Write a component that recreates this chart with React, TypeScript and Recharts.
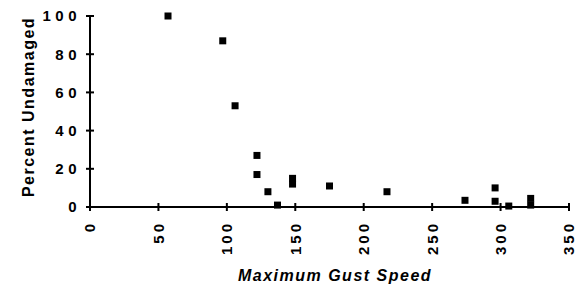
import React from 'react'
import { ScatterChart, Scatter, XAxis, YAxis } from 'recharts'

// gust speed vs percent undamaged
const gustSpeed = [57, 97, 106, 122, 122, 130, 137, 148, 148, 175, 217, 274, 296, 296, 306, 322, 322]
const percentUndamaged = [100, 87, 53, 27, 17, 8, 1, 15, 12, 11, 8, 3.5, 10, 3, 0.5, 4.5, 1]
const xTicks = [0, 50, 100, 150, 200, 250, 300, 350]
const yTicks = [0, 20, 40, 60, 80, 100]

const data = gustSpeed.map((x, i) => ({ x, y: percentUndamaged[i] }))

const FONT = '"Liberation Sans", Arial, Helvetica, sans-serif'
const TICK_SIZE = 4

function YTick(props: any) {
  const { x, y, payload } = props
  const axisX = x + TICK_SIZE + 5
  return (
    <g>
      <line x1={axisX - 4} x2={axisX + 4} y1={y} y2={y} stroke="#000" strokeWidth={2} />
      <text
        x={x}
        y={y}
        dy="0.36em"
        textAnchor="end"
        fontFamily={FONT}
        fontWeight="bold"
        fontSize={15}
        letterSpacing={4.5}
        fill="#000"
      >
        {payload.value}
      </text>
    </g>
  )
}

function XTick(props: any) {
  const { x, y, payload } = props
  const axisY = y - TICK_SIZE - 10
  return (
    <g>
      <line x1={x} x2={x} y1={axisY - 4} y2={axisY + 4} stroke="#000" strokeWidth={2} />
      <g transform={`translate(${x},${y})`}>
        <text
          transform="rotate(-90)"
          dy="0.36em"
          textAnchor="end"
          fontFamily={FONT}
          fontWeight="bold"
          fontSize={15}
          letterSpacing={3}
          fill="#000"
        >
          {payload.value}
        </text>
      </g>
    </g>
  )
}

const square = (props: any) => {
  const { cx, cy } = props
  return <rect x={cx - 3.5} y={cy - 3.5} width={7} height={7} fill="#000" />
}

export default function App() {
  return (
    <div style={{ position: 'absolute', left: 0, top: 0, background: '#fff' }}>
      <ScatterChart
        width={584}
        height={287}
        margin={{ top: 16, right: 15, bottom: 0, left: 0 }}
      >
        <XAxis
          type="number"
          dataKey="x"
          domain={[0, 350]}
          ticks={xTicks}
          interval={0}
          height={80}
          tickSize={TICK_SIZE}
          tickMargin={10}
          tickLine={false}
          axisLine={{ stroke: '#000', strokeWidth: 2 }}
          tick={<XTick />}
          label={{
            content: () => (
              <text
                x={335}
                y={281}
                textAnchor="middle"
                fontFamily={FONT}
                fontWeight="bold"
                fontStyle="italic"
                fontSize={16}
                letterSpacing={1.5}
                fill="#000"
              >
                Maximum Gust Speed
              </text>
            ),
          }}
        />
        <YAxis
          type="number"
          dataKey="y"
          domain={[0, 100]}
          ticks={yTicks}
          interval={0}
          width={90}
          tickSize={TICK_SIZE}
          tickMargin={5}
          tickLine={false}
          axisLine={{ stroke: '#000', strokeWidth: 2 }}
          tick={<YTick />}
          label={{
            content: () => (
              <text
                transform="translate(34,107) rotate(-90)"
                textAnchor="middle"
                fontFamily={FONT}
                fontWeight="bold"
                fontSize={16}
                letterSpacing={1.5}
                fill="#000"
              >
                Percent Undamaged
              </text>
            ),
          }}
        />
        <Scatter data={data} shape={square} isAnimationActive={false} />
      </ScatterChart>
    </div>
  )
}
